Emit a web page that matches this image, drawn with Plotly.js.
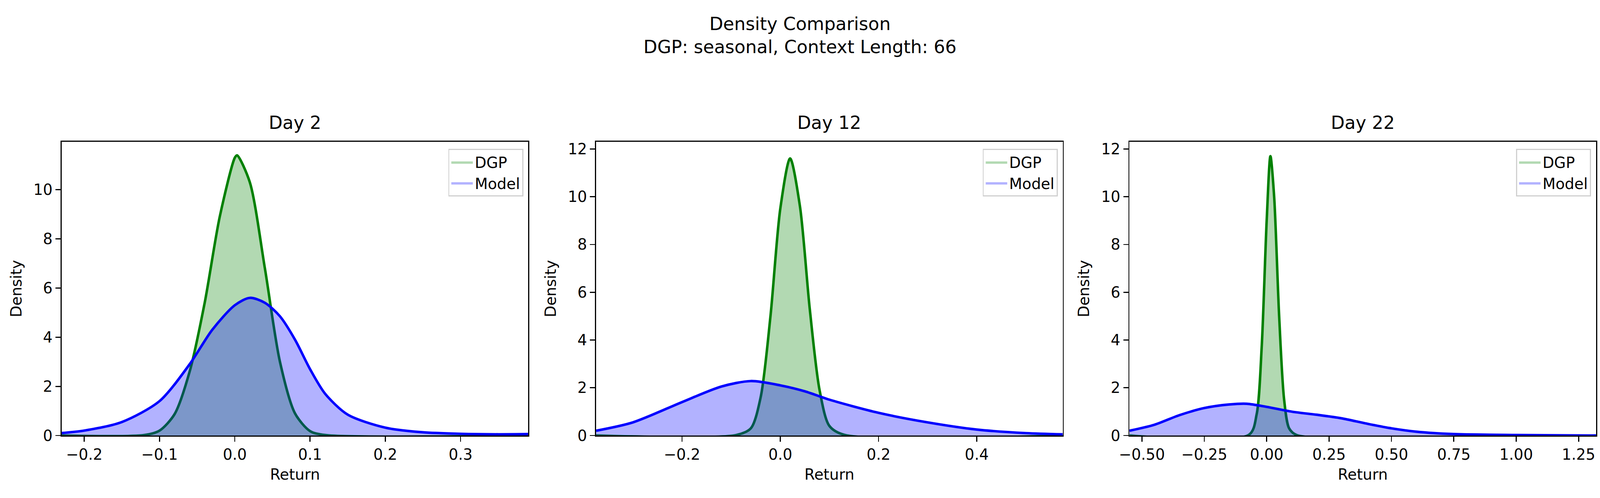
<!DOCTYPE html>
<html>
<head>
<meta charset="utf-8">
<script src="https://cdn.plot.ly/plotly-3.0.1.min.js"></script>
<style>html,body{margin:0;padding:0;overflow:hidden;background:#fff}</style>
</head>
<body>
<div id="chart"></div>
<script>
// Day 2
var dgp2X = [-0.23, -0.12, -0.1, -0.08, -0.06, -0.04, -0.02, 0, 0.003, 0.02, 0.04, 0.06, 0.08, 0.1, 0.12, 0.39];
var dgp2Y = [0, 0.02, 0.2, 0.87, 2.6, 5.4, 8.9, 11.3, 11.4, 10.3, 6.8, 3.0, 0.9, 0.18, 0.02, 0];
var model2X = [-0.23, -0.2, -0.15, -0.1, -0.06, -0.03, 0, 0.02, 0.04, 0.06, 0.08, 0.1, 0.12, 0.15, 0.2, 0.25, 0.3, 0.35, 0.39];
var model2Y = [0.1, 0.2, 0.55, 1.4, 2.9, 4.3, 5.3, 5.6, 5.4, 4.85, 3.9, 2.7, 1.7, 0.85, 0.32, 0.13, 0.07, 0.05, 0.06];
// Day 12
var dgp12X = [-0.375, -0.09, -0.06, -0.04, -0.02, 0, 0.02, 0.04, 0.06, 0.08, 0.1, 0.13, 0.575];
var dgp12Y = [0, 0.02, 0.3, 1.6, 5.0, 9.5, 11.6, 9.6, 5.3, 1.9, 0.4, 0.03, 0];
var model12X = [-0.375, -0.3, -0.2, -0.12, -0.06, 0, 0.05, 0.1, 0.2, 0.3, 0.4, 0.5, 0.575];
var model12Y = [0.2, 0.55, 1.4, 2.05, 2.28, 2.1, 1.85, 1.5, 0.95, 0.55, 0.25, 0.1, 0.05];
// Day 22
var dgp22X = [-0.55, -0.07, -0.04, -0.02, 0, 0.015, 0.03, 0.05, 0.07, 0.09, 0.12, 1.32];
var dgp22Y = [0, 0.04, 0.9, 3.7, 9.0, 11.7, 10.0, 5.0, 1.5, 0.3, 0.02, 0];
var model22X = [-0.55, -0.45, -0.35, -0.25, -0.15, -0.08, 0, 0.1, 0.2, 0.3, 0.4, 0.5, 0.6, 0.75, 1.0, 1.32];
var model22Y = [0.2, 0.45, 0.85, 1.15, 1.3, 1.33, 1.2, 1.0, 0.87, 0.72, 0.5, 0.3, 0.16, 0.06, 0.02, 0];

var panelTitles = ['Day 2', 'Day 12', 'Day 22'];
var xRanges = [[-0.23, 0.39], [-0.375, 0.575], [-0.55, 1.32]];
var yRanges = [[0, 11.95], [0, 12.3], [0, 12.3]];
var xTicks = [[-0.2, -0.1, 0, 0.1, 0.2, 0.3], [-0.2, 0, 0.2, 0.4], [-0.5, -0.25, 0, 0.25, 0.5, 0.75, 1, 1.25]];
var xFormats = ['.1f', '.1f', '.2f'];

var series = [
  [dgp2X, dgp2Y, model2X, model2Y],
  [dgp12X, dgp12Y, model12X, model12Y],
  [dgp22X, dgp22Y, model22X, model22Y]
];

// size everything to the real window, scaled from the 4461x1275 design
var W = window.innerWidth || 4461;
var H = window.innerHeight || 1275;
var k = W / 4461;

var domains = [[172 / 4461, 1473 / 4461], [1662 / 4461, 2963 / 4461], [3149 / 4461, 4450 / 4461]];
var yDom = [1 - 1115 / 1275, 1 - 363 / 1275];
var font = {family: 'DejaVu Sans', size: 42 * k, color: '#000'};

var data = [];
var layout = {
  width: W, height: H,
  margin: {l: 0, r: 0, t: 0, b: 0},
  paper_bgcolor: '#fff', plot_bgcolor: '#fff',
  font: font,
  title: {text: 'Density Comparison<br>DGP: seasonal, Context Length: 66', font: {size: 50 * k}, x: 0.5, xanchor: 'center', y: 0.94, yanchor: 'middle'},
  annotations: []
};

for (var i = 0; i < 3; i++) {
  var s = i === 0 ? '' : String(i + 1);
  var lg = i === 0 ? 'legend' : 'legend' + (i + 1);
  var d = series[i];
  // fills (shown in legend as boxes), then lines on top
  data.push({x: d[0], y: d[1], xaxis: 'x' + s, yaxis: 'y' + s, legend: lg, name: 'DGP',
    mode: 'lines', line: {color: 'rgba(0,128,0,0)', width: 0, shape: 'spline', smoothing: 0.8},
    fill: 'tozeroy', fillcolor: 'rgba(0,128,0,0.3)'});
  data.push({x: d[0], y: d[1], xaxis: 'x' + s, yaxis: 'y' + s, showlegend: false,
    mode: 'lines', line: {color: 'green', width: 7 * k, shape: 'spline', smoothing: 0.8}});
  data.push({x: d[2], y: d[3], xaxis: 'x' + s, yaxis: 'y' + s, legend: lg, name: 'Model',
    mode: 'lines', line: {color: 'rgba(0,0,255,0)', width: 0, shape: 'spline', smoothing: 0.8},
    fill: 'tozeroy', fillcolor: 'rgba(0,0,255,0.3)'});
  data.push({x: d[2], y: d[3], xaxis: 'x' + s, yaxis: 'y' + s, showlegend: false,
    mode: 'lines', line: {color: 'blue', width: 7 * k, shape: 'spline', smoothing: 0.8}});

  layout['xaxis' + s] = {domain: domains[i], anchor: 'y' + s, range: xRanges[i],
    tickvals: xTicks[i], tickformat: xFormats[i], showgrid: false, zeroline: false,
    showline: true, mirror: true, linecolor: '#000', linewidth: 3 * k,
    ticks: 'outside', ticklen: 14 * k, tickwidth: 3 * k, tickcolor: '#000',
    title: {text: 'Return', font: font, standoff: 18 * k}};
  layout['yaxis' + s] = {domain: yDom, anchor: 'x' + s, range: yRanges[i], dtick: 2,
    showgrid: false, zeroline: false,
    showline: true, mirror: true, linecolor: '#000', linewidth: 3 * k,
    ticks: 'outside', ticklen: 14 * k, tickwidth: 3 * k, tickcolor: '#000',
    title: {text: 'Density', font: font, standoff: 20 * k}};
  layout[lg] = {x: domains[i][1] - 14 / 4461, xanchor: 'right', y: yDom[1] - 18 / 1275, yanchor: 'top',
    bgcolor: 'rgba(255,255,255,0.8)', bordercolor: '#d0d0d0', borderwidth: 3 * k,
    font: font, tracegroupgap: 10 * k, itemwidth: 60 * k};
  layout.annotations.push({text: panelTitles[i], xref: 'paper', yref: 'paper',
    x: (domains[i][0] + domains[i][1]) / 2, y: yDom[1] + 20 / 1275, xanchor: 'center', yanchor: 'bottom',
    showarrow: false, font: {family: 'DejaVu Sans', size: 50 * k, color: '#000'}});
}

Plotly.newPlot('chart', data, layout, {staticPlot: true});
</script>
</body>
</html>
